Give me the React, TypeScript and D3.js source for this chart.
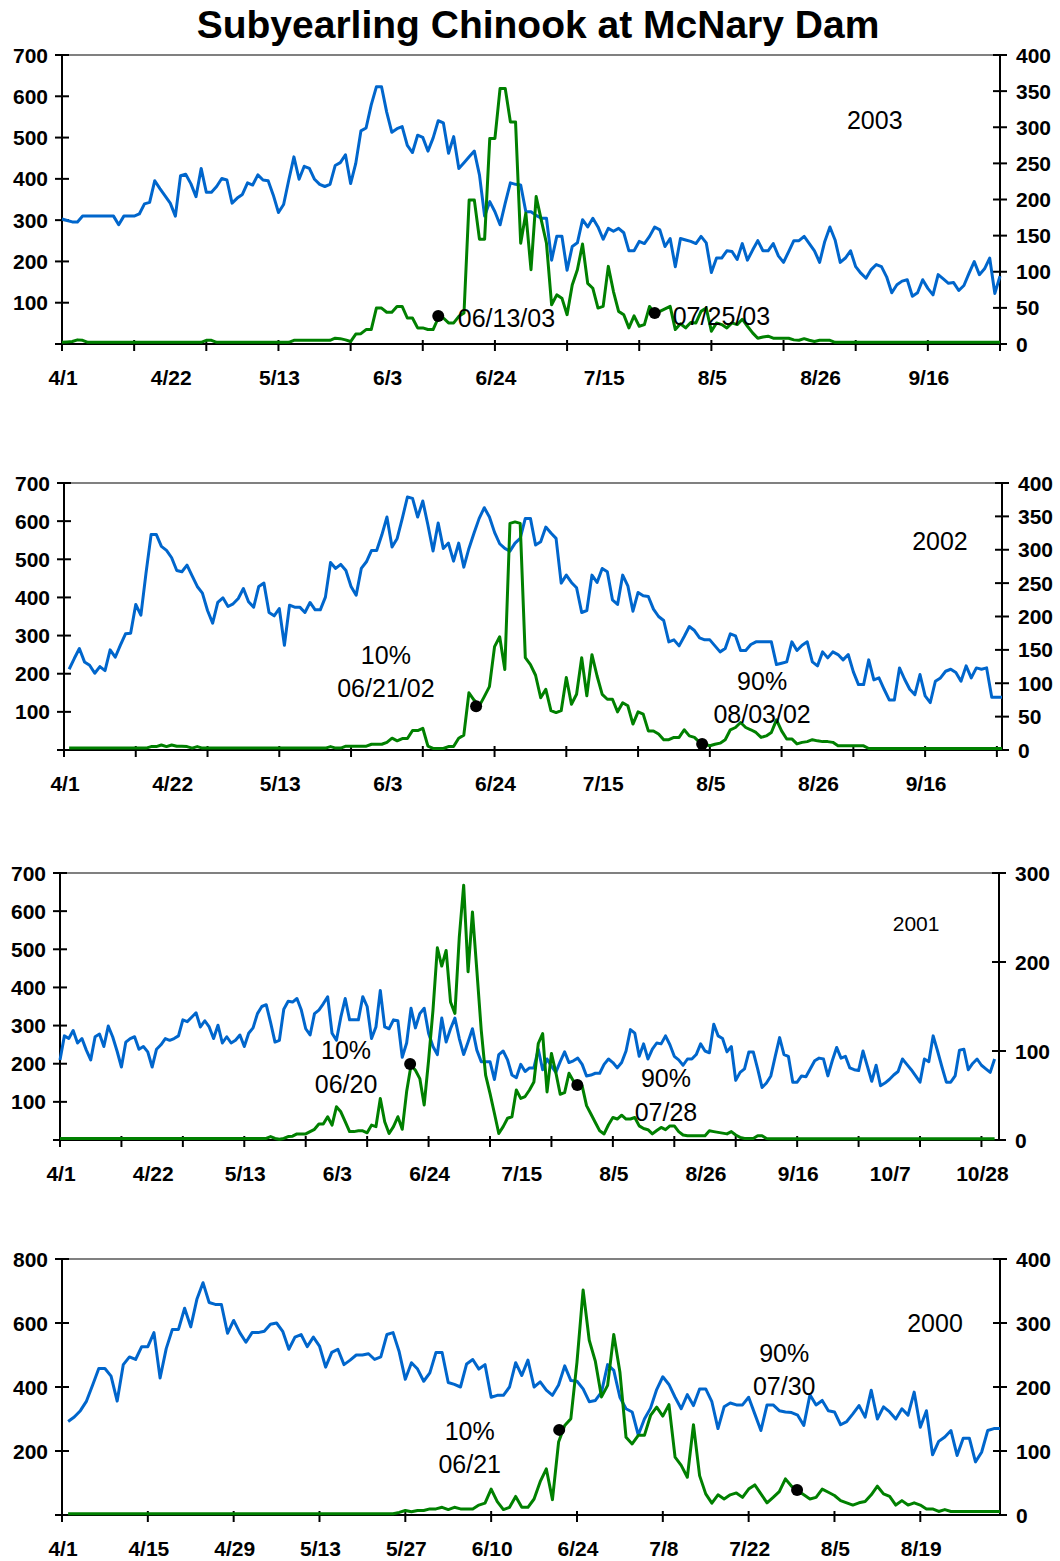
import React from 'react';
import * as d3 from 'd3';

const FONT = "'Liberation Sans', Arial, Helvetica, sans-serif";
const BLUE = '#0066cc';
const GREEN = '#008000';

// ---------- 2003 (start 4/1, daily) ----------
const blue2003 = [173,171,169,169,177,177,177,177,177,177,177,165,177,177,177,
180,194,196,226,215,205,195,177,233,235,222,204,243,210,210,218,229,227,195,202,207,223,220,234,227,226,206,182,193,227,259,228,246,243,228,221,218,221,247,251,262,222,250,295,299,331,356,356,321,293,298,301,275,265,289,286,267,285,309,306,264,287,243,251,259,267,234,177,197,183,165,195,223,221,220,
183,183,178,174,174,116,149,149,102,135,140,172,162,174,162,145,160,156,160,154,129,129,142,139,149,162,158,135,146,107,146,144,142,139,149,140,99,119,119,129,128,117,139,116,130,143,129,129,139,122,113,128,143,143,149,139,129,113,142,162,144,113,119,129,107,98,91,103,110,107,93,71,82,87,89,66,71,89,77,68,96,90,84,85,74,81,98,114,96,104,119,70,94];
const green2003 = [4,5,6,10,9,
4,4,4,4,4,4,4,4,4,4,4,4,4,4,4,4,4,4,4,4,4,4,4,
9,9,
4,4,4,4,4,4,4,4,4,4,4,4,4,4,4,
9,9,9,9,9,9,9,9,
14,13,10,6,24,25,35,35,87,87,77,77,91,91,63,63,39,39,35,35,63,63,51,51,67,75,349,349,254,254,498,498,619,619,538,538,244,317,180,357,300,244,95,119,111,71,143,180,242,147,135,87,91,188,127,79,71,39,68,43,47,91,73,79,85,91,35,49,39,52,51,79,87,31,51,47,39,51,47,60,43,27,14,17,19,14,14,14,14,10,9,13,9,6,9,9,9,
4,4,4,4,4,4,4,4,4,4,4,4,4,4,4,4,4,4,4,4,4,4,4,4,4,4,4,4,4,4,4,4,4];

// ---------- 2002 (start 4/2, daily) ----------
const blue2002 = [121,137,152,132,127,115,125,119,150,139,157,174,175,218,202,265,323,323,305,299,288,269,267,277,261,245,235,209,190,221,228,215,219,227,242,222,214,245,250,206,201,212,157,217,214,214,206,221,210,210,229,281,272,278,269,245,232,272,282,299,299,322,349,304,317,347,379,377,349,373,337,298,340,302,310,283,310,274,302,325,347,363,349,326,309,302,298,310,317,
347,347,307,312,334,325,317,250,262,251,243,206,209,262,251,272,267,225,218,262,246,208,236,231,230,211,200,194,162,165,156,170,185,179,168,165,165,156,147,152,174,171,149,149,158,162,162,162,162,128,130,132,162,149,157,162,132,126,147,138,147,143,135,143,117,98,98,135,105,108,91,75,75,123,106,91,83,113,81,71,103,108,118,121,116,103,126,108,123,121,123,79,79,79];
const green2002 = [5,5,5,5,5,5,5,5,5,5,5,5,5,5,5,5,
9,9,13,9,13,10,10,9,5,9,5,
5,5,5,5,5,5,5,5,5,5,5,5,5,5,5,5,5,5,5,5,5,5,5,5,
9,5,5,10,10,10,10,10,15,15,15,20,31,24,30,30,51,51,57,10,4,4,4,9,9,31,39,150,131,115,140,166,271,297,211,594,598,594,
242,224,196,137,159,103,98,103,190,120,146,242,142,250,194,146,133,133,100,124,116,68,100,94,50,50,42,27,27,33,33,53,37,33,20,15,11,15,18,27,53,59,72,59,53,46,33,37,46,79,50,29,29,16,20,22,27,24,22,22,20,11,11,11,11,11,11,
4,4,4,4,4,4,4,4,4,4,4,4,4,4,4,4,4,4,4,4,4,4,4,4,4,4,4];

// ---------- 2001 (start 4/1, daily) ----------
const blue2001 = [90,117,114,123,109,114,101,90,116,119,105,128,116,100,82,110,114,116,102,105,99,82,102,107,114,112,114,117,135,133,138,143,127,134,127,114,129,109,116,109,112,118,105,120,126,142,150,152,132,110,112,147,156,155,159,146,125,118,142,146,153,161,120,112,138,159,135,135,135,161,150,114,127,168,127,125,135,134,93,109,148,126,142,148,120,105,96,137,110,125,137,114,96,110,125,101,88,88,88,68,96,100,90,73,70,85,77,81,
81,102,79,91,83,76,88,99,87,89,92,85,72,73,75,75,85,91,87,81,87,100,124,120,94,108,91,102,109,108,117,107,94,90,84,91,91,96,108,100,98,130,117,114,99,105,67,76,80,99,99,80,59,64,72,94,115,96,94,65,65,72,71,80,89,92,91,72,89,104,92,94,81,79,78,100,83,66,84,61,64,68,73,77,91,85,79,72,65,91,88,117,100,82,65,65,72,101,102,79,86,91,84,80,76,91];
const green2001 = [4,4,4,4,4,4,4,4,4,4,4,4,4,4,4,4,4,4,4,4,4,4,4,4,4,4,4,4,4,4,4,4,4,4,4,4,4,4,4,4,4,4,4,4,4,4,4,4,
9,4,2,4,9,10,16,16,16,22,28,42,42,61,39,87,74,48,22,22,24,24,19,39,35,109,48,17,35,61,28,127,196,183,161,92,209,340,504,456,497,362,332,532,668,441,598,445,288,170,122,70,17,35,57,61,131,109,114,131,
152,253,279,126,227,177,120,124,175,155,143,142,90,68,46,24,16,40,59,55,65,55,55,59,37,30,27,16,25,33,27,37,37,22,13,11,11,11,11,11,24,22,20,18,16,22,13,7,4,4,4,11,11,4,
3,3,3,3,3,3,3,3,3,3,3,3,3,3,3,3,3,3,3,3,3,3,3,3,3,3,3,3,3,3,3,3,3,3,3,3,3,3,3,3,3,3,3,3,3,3,3,3,3,3,3,3];

// ---------- 2000 (start 4/2, daily) ----------
const blue2000 = [146,153,163,178,203,229,229,217,178,235,247,243,263,263,285,214,260,290,290,323,294,337,363,332,329,329,284,304,285,270,285,285,287,298,300,287,259,278,282,263,278,264,231,254,259,235,242,250,250,252,243,247,282,285,255,212,238,228,209,222,254,254,207,204,200,236,243,228,235,184,187,187,200,238,218,242,200,208,195,187,203,233,210,209,197,177,179,192,235,226,184,166,161,125,150,167,196,216,204,184,166,188,171,197,197,177,135,169,175,172,172,184,158,132,172,172,163,161,160,156,140,188,172,179,163,161,141,146,158,171,153,195,150,169,161,150,166,156,192,137,163,94,115,122,132,93,120,120,83,98,132,135,135];
const green2000 = [4,4,4,4,4,4,4,4,4,4,4,4,4,4,4,4,4,4,4,4,4,4,4,4,4,4,4,4,4,4,4,4,4,4,4,4,4,4,4,4,4,4,4,4,4,4,4,4,4,4,4,4,4,4,
8,14,10,14,14,19,19,24,17,24,19,19,19,31,37,81,42,17,24,58,24,24,50,104,144,48,228,280,301,478,703,546,480,369,405,564,447,243,222,249,249,311,337,309,345,181,155,118,282,123,66,37,63,50,63,69,55,81,94,66,38,55,73,113,90,76,63,50,55,81,71,61,45,38,31,38,42,63,90,66,58,31,45,31,38,31,19,19,11,17,11,
11,11,11,11,11,11,11,11];

// tick labels
const labels21 = ['4/1','4/22','5/13','6/3','6/24','7/15','8/5','8/26','9/16'];
const labels21long = ['4/1','4/22','5/13','6/3','6/24','7/15','8/5','8/26','9/16','10/7','10/28'];
const labels14 = ['4/1','4/15','4/29','5/13','5/27','6/10','6/24','7/8','7/22','8/5','8/19'];

// markers: [day offset from 4/1, left-axis value]
const markers2003: [number, number][] = [[73, 68], [115, 75]];
const markers2002: [number, number][] = [[80.4, 115], [124.5, 16]];
const markers2001: [number, number][] = [[79.8, 199], [117.9, 144]];
const markers2000: [number, number][] = [[81.1, 266], [119.9, 78]];

type Note = { t: string; d: number; v: number; anchor: string; size: number };
type Panel = {
  top: number; bottom: number; left: number; right: number; xMax: number; start: number;
  blue: number[]; green: number[]; leftMax: number; leftStep: number; rightMax: number; rightStep: number;
  labels: string[]; labelStep: number; markers: [number, number][]; notes: Note[];
};

const panels: Panel[] = [
  { top: 55, bottom: 344, left: 62, right: 1000, xMax: 182, start: 0, blue: blue2003, green: green2003,
    leftMax: 700, leftStep: 100, rightMax: 400, rightStep: 50, labels: labels21, labelStep: 21, markers: markers2003,
    notes: [
      { t: '2003', d: 157.7, v: 521, anchor: 'middle', size: 25 },
      { t: '06/13/03', d: 76.8, v: 41, anchor: 'start', size: 25 },
      { t: '07/25/03', d: 118.5, v: 46, anchor: 'start', size: 25 },
    ] },
  { top: 483, bottom: 750, left: 64, right: 1002, xMax: 183, start: 1, blue: blue2002, green: green2002,
    leftMax: 700, leftStep: 100, rightMax: 400, rightStep: 50, labels: labels21, labelStep: 21, markers: markers2002,
    notes: [
      { t: '2002', d: 170.9, v: 524, anchor: 'middle', size: 25 },
      { t: '10%', d: 62.8, v: 225, anchor: 'middle', size: 25 },
      { t: '06/21/02', d: 62.8, v: 139, anchor: 'middle', size: 25 },
      { t: '90%', d: 136.2, v: 157, anchor: 'middle', size: 25 },
      { t: '08/03/02', d: 136.2, v: 71, anchor: 'middle', size: 25 },
    ] },
  { top: 873, bottom: 1140, left: 60, right: 999, xMax: 214, start: 0, blue: blue2001, green: green2001,
    leftMax: 700, leftStep: 100, rightMax: 300, rightStep: 100, labels: labels21long, labelStep: 21, markers: markers2001,
    notes: [
      { t: '2001', d: 195.1, v: 548, anchor: 'middle', size: 21 },
      { t: '10%', d: 65.2, v: 212, anchor: 'middle', size: 25 },
      { t: '06/20', d: 65.2, v: 123, anchor: 'middle', size: 25 },
      { t: '90%', d: 138.1, v: 139, anchor: 'middle', size: 25 },
      { t: '07/28', d: 138.1, v: 50, anchor: 'middle', size: 25 },
    ] },
  { top: 1259, bottom: 1515, left: 62, right: 1000, xMax: 153, start: 1, blue: blue2000, green: green2000,
    leftMax: 800, leftStep: 200, rightMax: 400, rightStep: 100, labels: labels14, labelStep: 14, markers: markers2000,
    notes: [
      { t: '2000', d: 142.4, v: 572, anchor: 'middle', size: 25 },
      { t: '10%', d: 66.5, v: 234, anchor: 'middle', size: 25 },
      { t: '06/21', d: 66.5, v: 131, anchor: 'middle', size: 25 },
      { t: '90%', d: 117.8, v: 478, anchor: 'middle', size: 25 },
      { t: '07/30', d: 117.8, v: 375, anchor: 'middle', size: 25 },
    ] },
];

function PanelChart({ p }: { p: Panel }) {
  const x = d3.scaleLinear().domain([0, p.xMax]).range([p.left, p.right]);
  const yL = d3.scaleLinear().domain([0, p.leftMax]).range([p.bottom, p.top]);
  const yR = d3.scaleLinear().domain([0, p.rightMax]).range([p.bottom, p.top]);
  const lineB = d3.line<number>().x((_, i) => x(i + p.start)).y((d) => yR(d));
  const lineG = d3.line<number>().x((_, i) => x(i + p.start)).y((d) => yL(d));
  const xTicks = d3.range(0, p.xMax + 0.001, 14);
  const leftTicks = d3.range(0, p.leftMax + 0.001, p.leftStep);
  const rightTicks = d3.range(0, p.rightMax + 0.001, p.rightStep);
  const tk = 7;
  return (
    <g>
      <line x1={p.left} x2={p.right} y1={p.top} y2={p.top} stroke="#808080" strokeWidth={2} />
      <line x1={p.left} x2={p.left} y1={p.top} y2={p.bottom} stroke="#000" strokeWidth={2} />
      <line x1={p.right} x2={p.right} y1={p.top} y2={p.bottom} stroke="#000" strokeWidth={2} />
      <line x1={p.left - tk} x2={p.right + 1} y1={p.bottom} y2={p.bottom} stroke="#000" strokeWidth={2} />
      {xTicks.map((t) => (
        <line key={'xt' + t} x1={x(t)} x2={x(t)} y1={p.bottom - 4} y2={p.bottom + tk} stroke="#000" strokeWidth={2} />
      ))}
      {leftTicks.map((t) => (
        <g key={'lt' + t}>
          <line x1={p.left - tk} x2={p.left + tk} y1={yL(t)} y2={yL(t)} stroke="#000" strokeWidth={2} />
          {t > 0 && (
            <text x={p.left - 14} y={yL(t)} dy="0.36em" textAnchor="end" fontFamily={FONT} fontWeight="bold" fontSize={21}>{t}</text>
          )}
        </g>
      ))}
      {rightTicks.map((t) => (
        <g key={'rt' + t}>
          <line x1={p.right - tk} x2={p.right + tk} y1={yR(t)} y2={yR(t)} stroke="#000" strokeWidth={2} />
          <text x={p.right + 16} y={yR(t)} dy="0.36em" textAnchor="start" fontFamily={FONT} fontWeight="bold" fontSize={21}>{t}</text>
        </g>
      ))}
      {p.labels.map((lab, i) => (
        <text key={'xl' + i} x={x(i * p.labelStep) + 1} y={p.bottom + 41} textAnchor="middle" fontFamily={FONT} fontWeight="bold" fontSize={21}>{lab}</text>
      ))}
      <path d={lineB(p.blue) || ''} fill="none" stroke={BLUE} strokeWidth={3} strokeLinejoin="round" />
      <path d={lineG(p.green) || ''} fill="none" stroke={GREEN} strokeWidth={3} strokeLinejoin="round" />
      {p.markers.map((m, i) => (
        <circle key={'m' + i} cx={x(m[0])} cy={yL(m[1])} r={6} fill="#000" />
      ))}
      {p.notes.map((n, i) => (
        <text key={'n' + i} x={x(n.d)} y={yL(n.v)} textAnchor={n.anchor as any} fontFamily={FONT} fontSize={n.size} fill="#000">{n.t}</text>
      ))}
    </g>
  );
}

export default function App() {
  return (
    <svg width={1060} height={1561} style={{ position: 'absolute', left: 0, top: 0, background: '#fff' }}>
      <rect x={0} y={0} width={1060} height={1561} fill="#fff" />
      <text x={538} y={38} textAnchor="middle" fontFamily={FONT} fontWeight="bold" fontSize={39}>Subyearling Chinook at McNary Dam</text>
      {panels.map((p, i) => (
        <PanelChart key={i} p={p} />
      ))}
    </svg>
  );
}
